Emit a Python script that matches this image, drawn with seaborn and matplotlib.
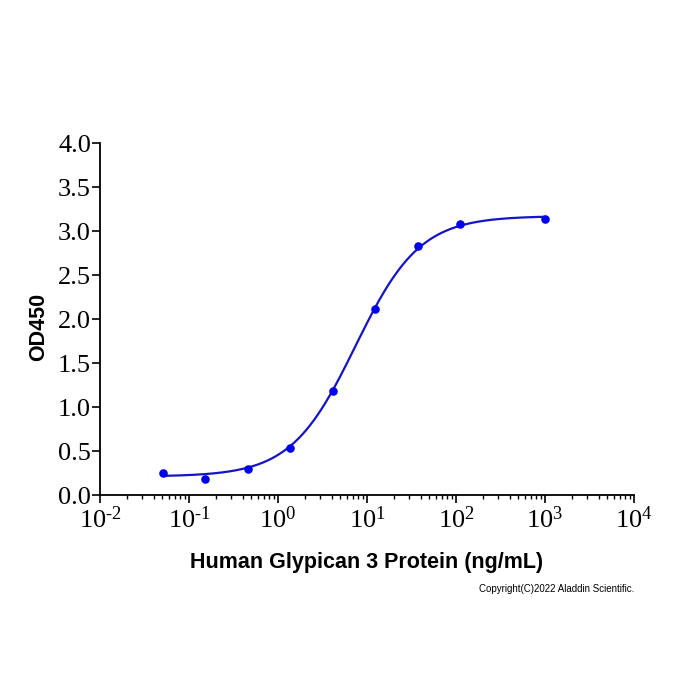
import numpy as np
import matplotlib
matplotlib.use('Agg')
import matplotlib.pyplot as plt
import matplotlib.ticker as mticker
import seaborn as sns

# Measured points (3-fold dilution series)
conc = [0.0508, 0.152, 0.457, 1.372, 4.115, 12.35, 37.04, 111.1, 1000]
od450 = [0.247, 0.178, 0.292, 0.538, 1.178, 2.110, 2.833, 3.076, 3.136]

# 4-parameter logistic fit
fit_bottom = 0.21
fit_top = 3.17
fit_ec50 = 7.4
fit_hill = 1.2

x_ticks = [1e-2, 1e-1, 1e0, 1e1, 1e2, 1e3, 1e4]
y_ticks = [0.0, 0.5, 1.0, 1.5, 2.0, 2.5, 3.0, 3.5, 4.0]

sns.set_theme(style='ticks')
plt.rcParams['font.family'] = ['Liberation Serif', 'DejaVu Serif']
plt.rcParams['mathtext.fontset'] = 'custom'
plt.rcParams['mathtext.rm'] = 'Liberation Serif'

fig = plt.figure(figsize=(7, 7), dpi=100)
ax = fig.add_axes([100 / 700, 1 - 495 / 700, 534 / 700, 352 / 700])

curve_x = np.logspace(np.log10(conc[0]), np.log10(conc[-1]), 300)
curve_y = fit_bottom + (fit_top - fit_bottom) / (1 + (fit_ec50 / curve_x) ** fit_hill)

sns.lineplot(x=curve_x, y=curve_y, ax=ax, color='#1414c8', linewidth=1.6, zorder=2)
sns.scatterplot(x=conc, y=od450, ax=ax, color='#0000ee', s=38, linewidth=0, zorder=3)

ax.set_xscale('log')
ax.set_xlim(1e-2, 1e4)
ax.set_ylim(0, 4)
ax.set_yticks(y_ticks)
ax.yaxis.set_major_formatter(mticker.FormatStrFormatter('%.1f'))
ax.set_xticks(x_ticks)
ax.xaxis.set_minor_locator(mticker.LogLocator(base=10, subs=np.arange(2, 10), numticks=20))
ax.xaxis.set_minor_formatter(mticker.NullFormatter())


def pow10_label(val, pos):
    exp = int(round(np.log10(val)))
    exp_txt = str(exp).replace('-', r'\text{-}')
    return r'$\mathdefault{10^{' + exp_txt + '}}$'


ax.xaxis.set_major_formatter(mticker.FuncFormatter(pow10_label))

sns.despine(ax=ax)
for side in ['left', 'bottom']:
    ax.spines[side].set_linewidth(1.3)
    ax.spines[side].set_color('black')

ax.tick_params(axis='both', which='major', direction='out', length=6, width=1.2,
               color='black', labelsize=19, labelcolor='black', pad=2)
ax.tick_params(axis='y', which='major', pad=0.5)
ax.tick_params(axis='x', which='minor', direction='out', length=3, width=1.0, color='black')

ax.set_xlabel('Human Glypican 3 Protein (ng/mL)', fontsize=15.5, fontweight='bold',
              family='Liberation Sans', color='black')
ax.set_ylabel('OD450', fontsize=15.5, fontweight='bold', family='Liberation Sans', color='black')
ax.xaxis.set_label_coords(0.5, -0.193)
ax.yaxis.set_label_coords(-0.115, 0.477)
ax.xaxis.label.set_va('center')
ax.yaxis.label.set_va('center')

fig.text(634 / 700, 1 - 589 / 700, 'Copyright(C)2022 Aladdin Scientific.',
         ha='right', va='center', fontsize=7, family='Liberation Sans', color='black')

fig.savefig('out.png', dpi=100, facecolor='white')
